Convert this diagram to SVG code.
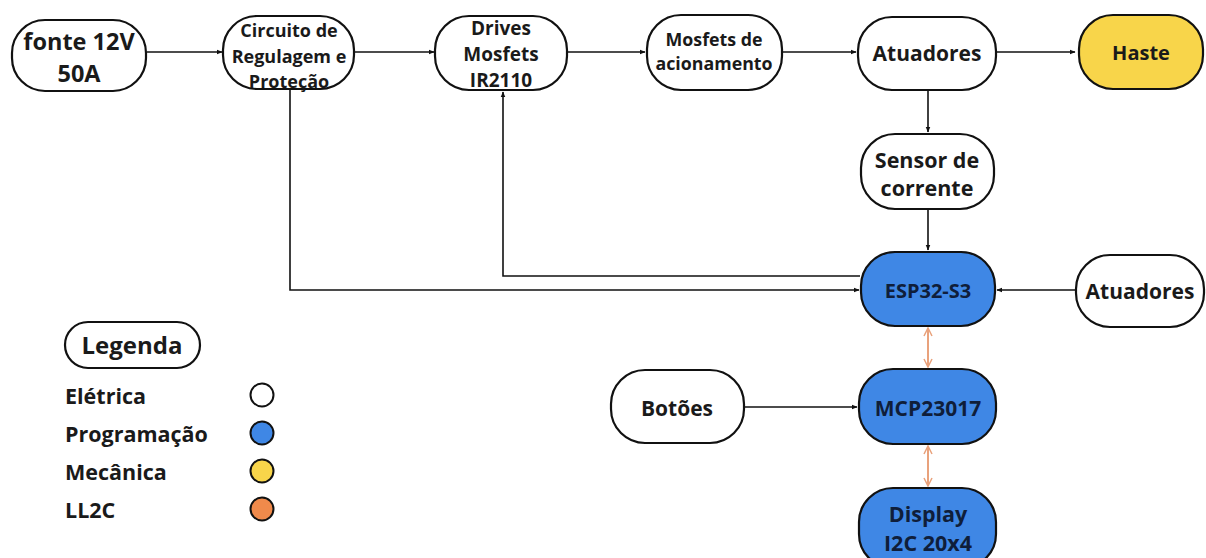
<svg xmlns="http://www.w3.org/2000/svg" width="1206" height="558" viewBox="0 0 1206 558">
<defs>
<style>
.n{stroke:#111;stroke-width:2.2;fill:#fff}
.b{fill:#3F87E5}
.y{fill:#F8D54A}
.t{font-family:"Open Sans","Noto Sans",sans-serif;font-weight:700;fill:#1a1a1a;text-anchor:middle;dominant-baseline:central}
.tb{fill:#0f1e3a}
.c{stroke:#111;stroke-width:1.6;fill:none}
.o{stroke:#E9A27C;stroke-width:2;fill:none}
.lg{font-family:"Open Sans","Noto Sans",sans-serif;font-weight:700;fill:#1a1a1a;font-size:21.5px;dominant-baseline:central}
</style>
<marker id="a" viewBox="0 0 10 10" refX="9" refY="5" markerWidth="6" markerHeight="6" orient="auto-start-reverse" markerUnits="userSpaceOnUse"><path d="M0,1 L10,5 L0,9 z" fill="#111"/></marker>
<marker id="ao" viewBox="0 0 10 10" refX="9" refY="5" markerWidth="10" markerHeight="10" orient="auto-start-reverse" markerUnits="userSpaceOnUse"><path d="M1,1 L9,5 L1,9" fill="none" stroke="#E9A27C" stroke-width="1.5"/></marker>
</defs>
<rect width="1206" height="558" fill="#fff"/>

<g id="connectors">
<path class="c" d="M147,52 H222" marker-end="url(#a)"/>
<path class="c" d="M354,52 H434" marker-end="url(#a)"/>
<path class="c" d="M567,52 H645" marker-end="url(#a)"/>
<path class="c" d="M782,52 H856" marker-end="url(#a)"/>
<path class="c" d="M996,52 H1075" marker-end="url(#a)"/>
<path class="c" d="M928,90 V132" marker-end="url(#a)"/>
<path class="c" d="M928,209 V250" marker-end="url(#a)"/>
<path class="c" d="M290,90 V290 H859" marker-end="url(#a)"/>
<path class="c" d="M860,276 H503 V92" marker-end="url(#a)"/>
<path class="c" d="M1076,290 H997" marker-end="url(#a)"/>
<path class="c" d="M744,407 H857" marker-end="url(#a)"/>
<path class="o" d="M928,328 V367" marker-start="url(#ao)" marker-end="url(#ao)"/>
<path class="o" d="M928,446 V486" marker-start="url(#ao)" marker-end="url(#ao)"/>
</g>

<g id="fonte">
<rect class="n" x="12" y="20" width="134" height="71" rx="33"/>
<text class="t" x="79" y="41" font-size="23.5">fonte 12V</text>
<text class="t" x="79" y="73" font-size="23.5">50A</text>
</g>
<g id="circuito">
<rect class="n" x="223" y="16" width="131" height="73" rx="34"/>
<text class="t" x="289" y="30" font-size="18">Circuito de</text>
<text class="t" x="289" y="56" font-size="18">Regulagem e</text>
<text class="t" x="289" y="81" font-size="18">Proteção</text>
</g>
<g id="drives">
<rect class="n" x="435" y="16" width="132" height="74" rx="34"/>
<text class="t" x="501" y="28" font-size="19">Drives</text>
<text class="t" x="501" y="54" font-size="19">Mosfets</text>
<text class="t" x="501" y="80" font-size="19">IR2110</text>
</g>
<g id="mosfets">
<rect class="n" x="647" y="15" width="135" height="75" rx="34"/>
<text class="t" x="714" y="39" font-size="17.8">Mosfets de</text>
<text class="t" x="714" y="63" font-size="17.8">acionamento</text>
</g>
<g id="atuadores1">
<rect class="n" x="858" y="17" width="138" height="73" rx="34"/>
<text class="t" x="927" y="53" font-size="21">Atuadores</text>
</g>
<g id="haste">
<rect class="n y" x="1079" y="15" width="124" height="74" rx="34"/>
<text class="t" x="1141" y="52" font-size="20">Haste</text>
</g>
<g id="sensor">
<rect class="n" x="861" y="134" width="133" height="75" rx="34"/>
<text class="t" x="927" y="159" font-size="21.5">Sensor de</text>
<text class="t" x="927" y="187" font-size="21.5">corrente</text>
</g>
<g id="esp32">
<rect class="n b" x="861" y="252" width="134" height="74" rx="34"/>
<text class="t tb" x="928" y="290" font-size="20">ESP32-S3</text>
</g>
<g id="atuadores2">
<rect class="n" x="1076" y="255" width="128" height="72" rx="34"/>
<text class="t" x="1140" y="291" font-size="21">Atuadores</text>
</g>
<g id="botoes">
<rect class="n" x="611" y="370" width="133" height="73" rx="34"/>
<text class="t" x="677" y="408" font-size="21">Botões</text>
</g>
<g id="mcp">
<rect class="n b" x="859" y="369" width="137" height="75" rx="34"/>
<text class="t tb" x="928" y="408" font-size="21">MCP23017</text>
</g>
<g id="display">
<rect class="n b" x="859" y="488" width="137" height="80" rx="34"/>
<text class="t tb" x="928" y="513" font-size="21.5">Display</text>
<text class="t tb" x="928" y="542" font-size="21.5">I2C 20x4</text>
</g>

<g id="legenda">
<rect class="n" x="65" y="322" width="135" height="46" rx="23"/>
<text class="t" x="132" y="344" font-size="24">Legenda</text>
<text class="lg" x="65" y="395">Elétrica</text>
<text class="lg" x="65" y="433">Programação</text>
<text class="lg" x="65" y="471">Mecânica</text>
<text class="lg" x="65" y="509">LL2C</text>
<circle cx="262" cy="395" r="11.5" fill="#fff" stroke="#111" stroke-width="2"/>
<circle cx="262" cy="433" r="11.5" fill="#3F87E5" stroke="#111" stroke-width="2"/>
<circle cx="262" cy="471" r="11.5" fill="#F8D54A" stroke="#111" stroke-width="2"/>
<circle cx="262" cy="509" r="11.5" fill="#F08A4B" stroke="#111" stroke-width="2"/>
</g>
</svg>
